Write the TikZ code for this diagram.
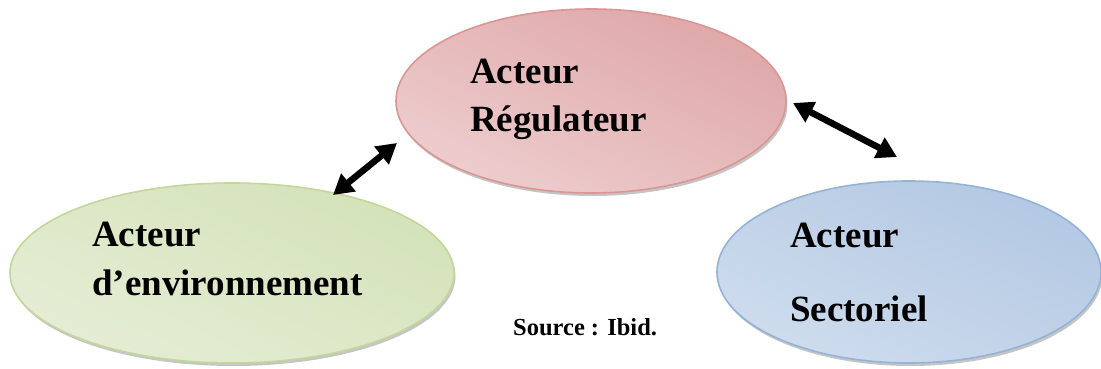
\documentclass[tikz,border=0pt]{standalone}
\usepackage{fontspec}
\setmainfont{Liberation Serif}
\usetikzlibrary{arrows.meta,shadows,shapes.geometric}

\definecolor{redline}{HTML}{D99694}
\definecolor{redlight}{HTML}{F5E2E3}
\definecolor{reddark}{HTML}{DFA7A8}
\definecolor{greenline}{HTML}{C3D69B}
\definecolor{greenlight}{HTML}{F0F5E7}
\definecolor{greendark}{HTML}{D4E2B9}
\definecolor{blueline}{HTML}{95B3D7}
\definecolor{bluelight}{HTML}{E0E9F4}
\definecolor{bluedark}{HTML}{B3C8E3}

\tikzset{
  actor/.style={ellipse, inner sep=0pt, line width=1.6pt,
    drop shadow={shadow xshift=1.5pt, shadow yshift=-3pt, fill=black!45, opacity=0.5}},
  redactor/.style={actor, draw=redline,
    top color=reddark, middle color=redlight, bottom color=redlight!65!reddark,
    shading angle=-25},
  greenactor/.style={actor, draw=greenline,
    top color=greendark, middle color=greenlight, bottom color=greenlight!60!greendark,
    shading angle=-25},
  blueactor/.style={actor, draw=blueline,
    top color=bluedark, middle color=bluelight, bottom color=bluelight!60!bluedark,
    shading angle=-25},
  label/.style={anchor=base west, inner sep=0pt, font=\fontsize{37}{44}\selectfont\bfseries},
  source/.style={anchor=base west, inner sep=0pt, font=\fontsize{24.5}{29}\selectfont\bfseries},
  link/.style={line width=6.5pt, {Triangle[length=20pt,width=22pt]}-{Triangle[length=20pt,width=22pt]}},
}

\begin{document}
\begin{tikzpicture}[x=1pt,y=1pt]
  \useasboundingbox[fill=white] (0,0) rectangle (1101,369);

  % the three actors
  \node[redactor, minimum width=390pt, minimum height=184pt] (reg) at (591,268) {};
  \node[greenactor, minimum width=444pt, minimum height=180pt] (env) at (232,96) {};
  \node[blueactor, minimum width=384pt, minimum height=182pt] (sec) at (909,97) {};

  % labels
  \node[label] (reg1) at (470,285) {Acteur};
  \node[label] (reg2) at (470,237) {Régulateur};
  \node[label] (env1) at (92,122) {Acteur};
  \node[label] (env2) at (92,73) {d’environnement};
  \node[label] (sec1) at (790,121) {Acteur};
  \node[label] (sec2) at (790,47) {Sectoriel};
  \node[source] (src) at (513,33) {Source : Ibid.};

  % two-way links between the actors
  \coordinate (envend) at (333,174);
  \coordinate (regleft) at (397,226);
  \coordinate (regright) at (793,266);
  \coordinate (secend) at (897,212);
  \draw[link] (envend) -- (regleft);
  \draw[link] (regright) -- (secend);
\end{tikzpicture}
\end{document}
